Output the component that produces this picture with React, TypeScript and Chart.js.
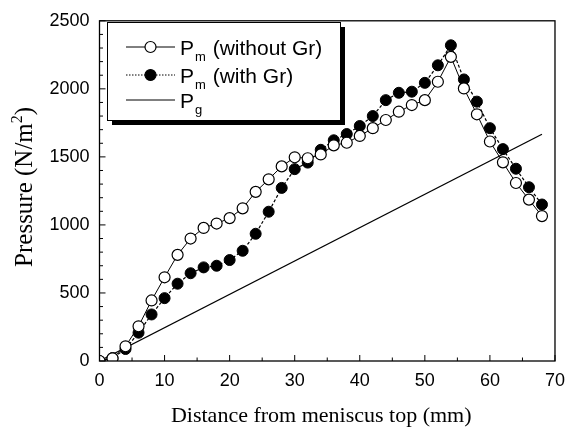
import React, { useEffect, useRef } from 'react';
import { Chart, registerables } from 'chart.js';

Chart.register(...registerables);

const distance = [0, 2, 4, 6, 8, 10, 12, 14, 16, 18, 20, 22, 24, 26, 28, 30, 32, 34, 36, 38, 40, 42, 44, 46, 48, 50, 52, 54, 56, 58, 60, 62, 64, 66, 68];
const pmWithoutGr = [0, 20, 108, 255, 445, 615, 780, 900, 978, 1010, 1050, 1122, 1243, 1335, 1430, 1497, 1490, 1518, 1585, 1604, 1654, 1711, 1771, 1832, 1881, 1917, 2052, 2235, 2003, 1813, 1613, 1460, 1308, 1186, 1065];
const pmWithGr = [0, 22, 88, 208, 342, 462, 568, 645, 688, 700, 742, 810, 935, 1097, 1272, 1410, 1458, 1552, 1622, 1668, 1727, 1800, 1917, 1971, 1979, 2044, 2173, 2320, 2069, 1906, 1711, 1557, 1413, 1277, 1150];
const pgDistance = [0, 68];
const pgValues = [0, 1666];
const xTicks = [0, 10, 20, 30, 40, 50, 60, 70];
const yTicks = [0, 500, 1000, 1500, 2000, 2500];

const toPoints = (xs: number[], ys: number[]) => xs.map((x, i) => ({ x, y: ys[i] }));

const SERIF = '"Liberation Serif", "Times New Roman", serif';
const SANS = '"Liberation Sans", Arial, sans-serif';

const framePlugin = {
  id: 'frameTicks',
  afterDatasetsDraw(chart: any) {
    const { ctx, chartArea, scales } = chart;
    const { left, right, top, bottom } = chartArea;
    ctx.save();
    ctx.strokeStyle = '#000';
    ctx.lineWidth = 1.3;
    ctx.strokeRect(left, top, right - left, bottom - top);
    ctx.lineWidth = 1;
    for (let v = 0; v <= 70; v += 5) {
      const px = scales.x.getPixelForValue(v);
      const len = v % 10 === 0 ? 6 : 3.5;
      ctx.beginPath();
      ctx.moveTo(px, bottom);
      ctx.lineTo(px, bottom - len);
      ctx.stroke();
    }
    for (let v = 0; v <= 2500; v += 100) {
      const py = scales.y.getPixelForValue(v);
      const len = v % 500 === 0 ? 6 : 3.5;
      ctx.beginPath();
      ctx.moveTo(left, py);
      ctx.lineTo(left + len, py);
      ctx.stroke();
    }
    ctx.restore();
  },
};

const titlePlugin = {
  id: 'axisTitles',
  afterDraw(chart: any) {
    const { ctx, chartArea } = chart;
    ctx.save();
    ctx.fillStyle = '#000';
    ctx.font = `22px ${SERIF}`;
    ctx.textAlign = 'center';
    ctx.textBaseline = 'alphabetic';
    ctx.fillText('Distance from meniscus top (mm)', (chartArea.left + chartArea.right) / 2 - 6, 422);
    const cx = 32;
    const cy = (chartArea.top + chartArea.bottom) / 2 - 4;
    ctx.translate(cx, cy);
    ctx.rotate(-Math.PI / 2);
    ctx.font = `25px ${SERIF}`;
    const a = 'Pressure (N/m';
    const b = '2';
    const c = ')';
    const wa = ctx.measureText(a).width;
    const wc = ctx.measureText(c).width;
    ctx.font = `16px ${SERIF}`;
    const wb = ctx.measureText(b).width;
    const total = wa + wb + wc;
    const x0 = -total / 2;
    ctx.textAlign = 'left';
    ctx.font = `25px ${SERIF}`;
    ctx.fillText(a, x0, 0);
    ctx.font = `16px ${SERIF}`;
    ctx.fillText(b, x0 + wa, -10);
    ctx.font = `25px ${SERIF}`;
    ctx.fillText(c, x0 + wa + wb, 0);
    ctx.restore();
  },
};

const legendPlugin = {
  id: 'boxLegend',
  afterDraw(chart: any) {
    const { ctx } = chart;
    const bx = 107, by = 22, bw = 233, bh = 98, sh = 5;
    ctx.save();
    ctx.fillStyle = '#000';
    ctx.fillRect(bx + sh, by + sh, bw, bh);
    ctx.fillStyle = '#fff';
    ctx.fillRect(bx, by, bw, bh);
    ctx.strokeStyle = '#000';
    ctx.lineWidth = 1;
    ctx.strokeRect(bx + 0.5, by + 0.5, bw, bh);

    const rows = [
      { y: 47, main: 'P', sub: 'm', rest: ' (without Gr)', dash: [] as number[], marker: 'open' },
      { y: 75, main: 'P', sub: 'm', rest: ' (with Gr)', dash: [1.5, 1.5], marker: 'filled' },
      { y: 100, main: 'P', sub: 'g', rest: '', dash: [] as number[], marker: 'none' },
    ];
    rows.forEach((r) => {
      ctx.strokeStyle = '#000';
      ctx.lineWidth = 1;
      ctx.setLineDash(r.dash);
      ctx.beginPath();
      ctx.moveTo(126, r.y);
      ctx.lineTo(175, r.y);
      ctx.stroke();
      ctx.setLineDash([]);
      if (r.marker !== 'none') {
        ctx.beginPath();
        ctx.arc(150.5, r.y, 5.5, 0, Math.PI * 2);
        ctx.fillStyle = r.marker === 'open' ? '#fff' : '#000';
        ctx.fill();
        ctx.lineWidth = 1.2;
        ctx.stroke();
      }
      ctx.fillStyle = '#000';
      ctx.textAlign = 'left';
      ctx.textBaseline = 'alphabetic';
      ctx.font = `21px ${SANS}`;
      const base = r.y + 7.5;
      ctx.fillText(r.main, 180, base);
      const wm = ctx.measureText(r.main).width;
      ctx.font = `13px ${SANS}`;
      ctx.fillText(r.sub, 180 + wm + 1, base + 6);
      const ws = ctx.measureText(r.sub).width;
      ctx.font = `21px ${SANS}`;
      if (r.rest) ctx.fillText(r.rest, 180 + wm + ws + 2, base);
    });
    ctx.restore();
  },
};

export default function App() {
  const ref = useRef<HTMLCanvasElement | null>(null);

  useEffect(() => {
    document.body.style.margin = '0';
    const canvas = ref.current;
    if (!canvas) return;
    const chart = new Chart(canvas, {
      type: 'line',
      data: {
        datasets: [
          {
            label: 'Pm (without Gr)',
            data: toPoints(distance, pmWithoutGr),
            borderColor: '#000',
            borderWidth: 1,
            backgroundColor: '#fff',
            pointBackgroundColor: '#fff',
            pointBorderColor: '#000',
            pointBorderWidth: 1.2,
            pointRadius: 5.5,
            tension: 0,
          },
          {
            label: 'Pm (with Gr)',
            data: toPoints(distance, pmWithGr),
            borderColor: '#000',
            borderWidth: 1.2,
            borderDash: [3, 2],
            backgroundColor: '#000',
            pointBackgroundColor: '#000',
            pointBorderColor: '#000',
            pointBorderWidth: 1,
            pointRadius: 5.5,
            tension: 0,
          },
          {
            label: 'Pg',
            data: toPoints(pgDistance, pgValues),
            borderColor: '#000',
            borderWidth: 1.3,
            pointRadius: 0,
            tension: 0,
          },
        ],
      },
      options: {
        animation: false,
        responsive: false,
        maintainAspectRatio: false,
        layout: { padding: { left: 0, right: 13, top: 17, bottom: 0 } },
        plugins: {
          legend: { display: false },
          tooltip: { enabled: false },
        },
        scales: {
          x: {
            type: 'linear',
            min: 0,
            max: 70,
            afterFit: (s: any) => { s.height = 73; },
            afterBuildTicks: (s: any) => { s.ticks = xTicks.map((v) => ({ value: v })); },
            grid: { display: false, drawTicks: false },
            border: { display: false },
            ticks: {
              padding: 9,
              color: '#000',
              font: { family: SANS, size: 18 },
              maxRotation: 0,
              callback: (v: any) => String(v),
            },
          },
          y: {
            type: 'linear',
            min: 0,
            max: 2500,
            afterFit: (s: any) => { s.width = 99.5; },
            afterBuildTicks: (s: any) => { s.ticks = yTicks.map((v) => ({ value: v })); },
            grid: { display: false, drawTicks: false },
            border: { display: false },
            ticks: {
              padding: 10,
              color: '#000',
              font: { family: SANS, size: 18 },
              callback: (v: any) => String(v),
            },
          },
        },
      },
      plugins: [framePlugin, titlePlugin, legendPlugin],
    });
    return () => chart.destroy();
  }, []);

  return (
    <div style={{ width: 574, height: 434, position: 'relative', background: '#fff' }}>
      <canvas ref={ref} width={574} height={434} style={{ display: 'block' }} />
    </div>
  );
}
